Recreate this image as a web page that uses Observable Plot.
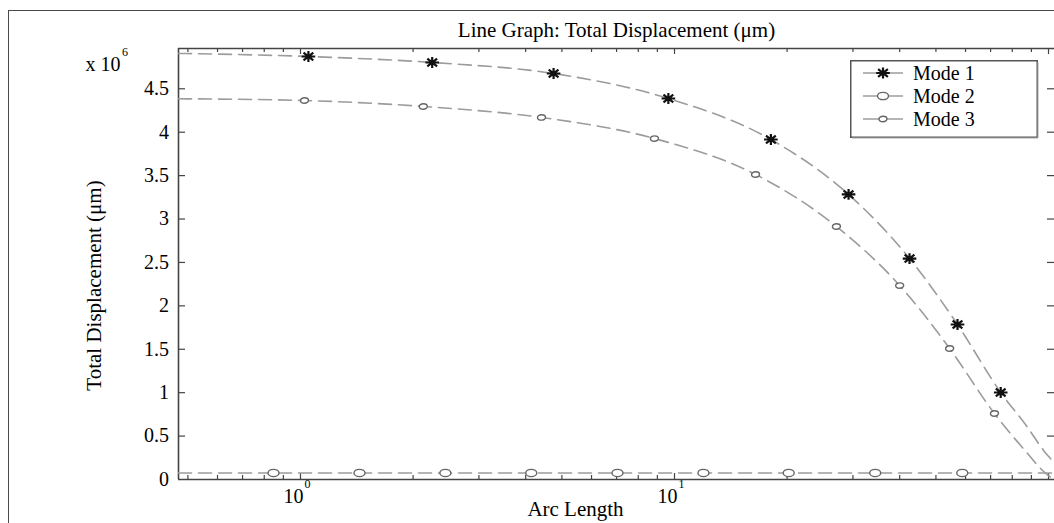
<!DOCTYPE html>
<html>
<head>
<meta charset="utf-8">
<script src="https://cdn.jsdelivr.net/npm/d3@7"></script>
<script src="https://cdn.jsdelivr.net/npm/@observablehq/plot@0.6"></script>
<style>
  html, body { margin: 0; padding: 0; background: #fff; }
  #wrap { position: relative; width: 1054px; height: 523px; overflow: hidden; font-family: "Liberation Serif", "Times New Roman", serif; }
  #outer { position: absolute; left: 8px; top: 10px; width: 3000px; height: 3000px; border-left: 1.5px solid #4a4a4a; border-top: 1.5px solid #4a4a4a; }
  #chart { position: absolute; left: 0; top: 0; }
  #legend { position: absolute; left: 850px; top: 60px; }
</style>
</head>
<body>
<div id="wrap">
  <div id="outer"></div>
  <div id="chart"></div>
  <svg id="legend" width="190" height="80"></svg>
</div>
<script>
// ---- Texts ----
const titleText = "Line Graph: Total Displacement (μm)";
const xAxisLabel = "Arc Length";
const yAxisLabel = "Total Displacement (μm)";
const multiplierBase = "x 10";
const multiplierExp = "6";
const seriesNames = ["Mode 1", "Mode 2", "Mode 3"];

// ---- Ticks ----
const xMinorTicks = [0.5, 0.6, 0.7, 0.8, 0.9, 2, 3, 4, 5, 6, 7, 8, 9, 20, 30, 40, 50, 60, 70, 80, 90];
const xMajorTicks = [1, 10, 100];
const xLabelTicks = [1, 10];
const yTicks = [0, 0.5e6, 1e6, 1.5e6, 2e6, 2.5e6, 3e6, 3.5e6, 4e6, 4.5e6];

// ---- Mode 1 (asterisk markers) ----
const mode1MarkX = [1.05, 2.25, 4.75, 9.63, 18.1, 29.2, 42.5, 57.1, 74.5];
const mode1MarkY = [4.872e6, 4.803e6, 4.676e6, 4.388e6, 3.916e6, 3.283e6, 2.545e6, 1.785e6, 1.002e6];
const mode1CurveX = [0.472, 1.05, 2.25, 4.75, 9.63, 18.1, 29.2, 42.5, 57.1, 74.5, 87.9, 97.0, 103.75];
const mode1CurveY = [4.907e6, 4.872e6, 4.803e6, 4.676e6, 4.388e6, 3.916e6, 3.283e6, 2.545e6, 1.785e6, 1.002e6, 0.600e6, 0.335e6, 0.190e6];

// ---- Mode 2 (large circle markers, near zero) ----
const mode2MarkX = [0.847, 1.438, 2.44, 4.14, 7.04, 11.95, 20.2, 34.4, 58.8];
const mode2MarkY = [0.075e6, 0.075e6, 0.075e6, 0.075e6, 0.075e6, 0.075e6, 0.075e6, 0.075e6, 0.075e6];
const mode2CurveX = [0.472, 0.847, 1.438, 2.44, 4.14, 7.04, 11.95, 20.2, 34.4, 58.8, 103.75];
const mode2CurveY = [0.075e6, 0.075e6, 0.075e6, 0.075e6, 0.075e6, 0.075e6, 0.075e6, 0.075e6, 0.075e6, 0.075e6, 0.075e6];

// ---- Mode 3 (small circle markers) ----
const mode3MarkX = [1.025, 2.13, 4.41, 8.84, 16.47, 27.1, 40.0, 54.4, 71.7];
const mode3MarkY = [4.365e6, 4.296e6, 4.170e6, 3.927e6, 3.513e6, 2.914e6, 2.234e6, 1.509e6, 0.760e6];
const mode3CurveX = [0.472, 1.025, 2.13, 4.41, 8.84, 16.47, 27.1, 40.0, 54.4, 71.7, 79.1, 87.9, 96.4, 100, 103.75];
const mode3CurveY = [4.385e6, 4.365e6, 4.296e6, 4.170e6, 3.927e6, 3.513e6, 2.914e6, 2.234e6, 1.509e6, 0.760e6, 0.530e6, 0.300e6, 0.104e6, 0.045e6, 0.0];

const zip = (xs, ys) => xs.map((x, i) => ({x, y: ys[i]}));

// custom marker shapes (the reference is slightly stretched horizontally)
function ellipseSym(rx, ry) {
  const k = 0.5523;
  return {draw(ctx) {
    ctx.moveTo(rx, 0);
    ctx.bezierCurveTo(rx, ry * k, rx * k, ry, 0, ry);
    ctx.bezierCurveTo(-rx * k, ry, -rx, ry * k, -rx, 0);
    ctx.bezierCurveTo(-rx, -ry * k, -rx * k, -ry, 0, -ry);
    ctx.bezierCurveTo(rx * k, -ry, rx, -ry * k, rx, 0);
    ctx.closePath();
  }};
}
function starSym(rx, ry) {
  const c = rx * 0.72, d = ry * 0.72;
  return {draw(ctx) {
    ctx.moveTo(-rx, 0); ctx.lineTo(rx, 0);
    ctx.moveTo(0, -ry); ctx.lineTo(0, ry);
    ctx.moveTo(-c, -d); ctx.lineTo(c, d);
    ctx.moveTo(-c, d); ctx.lineTo(c, -d);
  }};
}
const sym1 = starSym(6.8, 5.4);
const sym2 = ellipseSym(5.5, 3.6);
const sym3 = ellipseSym(4.0, 2.7);

const W = 1054, H = 523, mL = 178, mR = 0, mT = 48, mB = 44;
const fw = W - mL - mR, fh = H - mT - mB;
const xDomain = [0.4719, 103.75];
const yDomain = [0, 4.964e6];

const lineColor = "#9c9c9c";
const axisColor = "#444";
const dash = "13,7";
const serif = "'Liberation Serif', 'Times New Roman', serif";

const plot = Plot.plot({
  width: W, height: H,
  marginLeft: mL, marginRight: mR, marginTop: mT, marginBottom: mB,
  x: {type: "log", domain: xDomain, axis: null},
  y: {domain: yDomain, axis: null},
  style: {fontFamily: serif, fontSize: "20px", background: "transparent", color: "#000"},
  marks: [
    // frame (left, top, bottom)
    Plot.ruleX([xDomain[0]], {stroke: axisColor, strokeWidth: 1.6}),
    Plot.ruleY([yDomain[0]], {stroke: axisColor, strokeWidth: 1.6}),
    Plot.ruleY([yDomain[1]], {stroke: axisColor, strokeWidth: 1.6}),
    // x ticks bottom + top (inward)
    Plot.ruleX(xMinorTicks, {x: d => d, insetTop: fh - 4, stroke: axisColor, strokeWidth: 1.2}),
    Plot.ruleX(xMinorTicks, {x: d => d, insetBottom: fh - 4, stroke: axisColor, strokeWidth: 1.2}),
    Plot.ruleX(xMajorTicks, {x: d => d, insetTop: fh - 6, stroke: axisColor, strokeWidth: 1.2}),
    Plot.ruleX(xMajorTicks, {x: d => d, insetBottom: fh - 6, stroke: axisColor, strokeWidth: 1.2}),
    // y ticks left + right (inward)
    Plot.ruleY(yTicks.slice(1), {y: d => d, insetRight: fw - 7, stroke: axisColor, strokeWidth: 1.2}),
    Plot.ruleY(yTicks.slice(1), {y: d => d, insetLeft: fw - 7, stroke: axisColor, strokeWidth: 1.2}),
    // y tick labels
    Plot.text(yTicks, {y: d => d, text: d => String(+(d / 1e6).toFixed(1)), frameAnchor: "left", textAnchor: "end", lineAnchor: "middle", dx: -9.5, fontSize: 20}),
    // x tick labels 10^n
    Plot.text(xLabelTicks, {x: d => d, text: () => "10", frameAnchor: "bottom", lineAnchor: "middle", textAnchor: "middle", dx: -7, dy: 16.6, fontSize: 20}),
    Plot.text(xLabelTicks, {x: d => d, text: d => String(Math.round(Math.log10(d))), frameAnchor: "bottom", lineAnchor: "middle", textAnchor: "middle", dx: 7, dy: 4.5, fontSize: 12}),
    // multiplier
    Plot.text([multiplierBase], {text: d => d, frameAnchor: "top-left", textAnchor: "end", lineAnchor: "middle", dx: -58, dy: 15.6, fontSize: 20}),
    Plot.text([multiplierExp], {text: d => d, frameAnchor: "top-left", textAnchor: "start", lineAnchor: "middle", dx: -56.5, dy: 3.7, fontSize: 12}),
    // title and axis labels
    Plot.text([titleText], {text: d => d, frameAnchor: "top", lineAnchor: "middle", textAnchor: "middle", dy: -18.4, fontSize: 21}),
    Plot.text([xAxisLabel], {text: d => d, frameAnchor: "bottom", lineAnchor: "middle", textAnchor: "middle", dx: -41, dy: 29.6, fontSize: 21}),
    Plot.text([yAxisLabel], {text: d => d, frameAnchor: "left", rotate: -90, lineAnchor: "middle", textAnchor: "middle", dx: -84.4, dy: 21.5, fontSize: 21}),
    // series lines
    Plot.line(zip(mode2CurveX, mode2CurveY), {x: "x", y: "y", stroke: lineColor, strokeWidth: 1.6, strokeDasharray: dash, curve: "monotone-x", clip: true}),
    Plot.line(zip(mode3CurveX, mode3CurveY), {x: "x", y: "y", stroke: lineColor, strokeWidth: 1.6, strokeDasharray: dash, curve: "monotone-x", clip: true}),
    Plot.line(zip(mode1CurveX, mode1CurveY), {x: "x", y: "y", stroke: lineColor, strokeWidth: 1.6, strokeDasharray: dash, curve: "monotone-x", clip: true}),
    // markers
    Plot.dot(zip(mode2MarkX, mode2MarkY), {x: "x", y: "y", symbol: sym2, r: 4, fill: "white", stroke: "#666", strokeWidth: 1.4}),
    Plot.dot(zip(mode3MarkX, mode3MarkY), {x: "x", y: "y", symbol: sym3, r: 3, fill: "white", stroke: "#666", strokeWidth: 1.4}),
    Plot.dot(zip(mode1MarkX, mode1MarkY), {x: "x", y: "y", symbol: sym1, r: 5, fill: "none", stroke: "#111", strokeWidth: 2.2})
  ]
});
document.getElementById("chart").appendChild(plot);

// ---- Legend ----
const lg = d3.select("#legend");
lg.append("rect").attr("x", 0.75).attr("y", 0.75).attr("width", 186.5).attr("height", 76.5)
  .attr("fill", "white").attr("stroke", "#555").attr("stroke-width", 1.5);
lg.append("line").attr("x1", 188).attr("x2", 188).attr("y1", 2).attr("y2", 78).attr("stroke", "#aaa").attr("stroke-width", 1);
lg.append("line").attr("x1", 2).attr("x2", 188).attr("y1", 78).attr("y2", 78).attr("stroke", "#aaa").attr("stroke-width", 1);
const legendSyms = [sym1, sym2, sym3];
const legendStroke = ["#111", "#666", "#666"];
const legendFill = ["none", "white", "white"];
const legendWidth = [2.2, 1.4, 1.4];
seriesNames.forEach((name, i) => {
  const cy = 13 + 23 * i;
  lg.append("line").attr("x1", 13).attr("x2", 53).attr("y1", cy).attr("y2", cy)
    .attr("stroke", lineColor).attr("stroke-width", 1.6);
  lg.append("path").attr("transform", `translate(33,${cy})`)
    .attr("d", d3.symbol().type(legendSyms[i])())
    .attr("fill", legendFill[i]).attr("stroke", legendStroke[i]).attr("stroke-width", legendWidth[i]);
  lg.append("text").attr("x", 63).attr("y", cy + 6.5)
    .attr("font-family", serif).attr("font-size", 20)
    .attr("fill", "#000").text(name);
});
</script>
</body>
</html>
